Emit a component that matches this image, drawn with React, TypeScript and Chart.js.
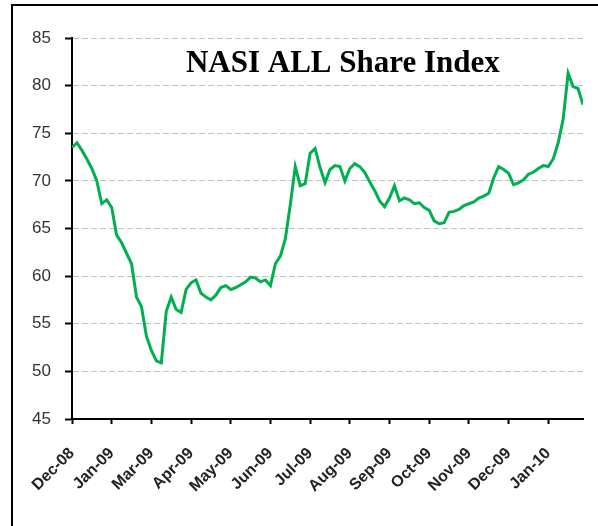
import React, { useEffect, useRef } from "react";
import { Chart, registerables } from "chart.js";

Chart.register(...registerables);

const title = "NASI ALL Share Index";
const tickLabels = [
  "Dec-08", "Jan-09", "Mar-09", "Apr-09", "May-09", "Jun-09", "Jul-09",
  "Aug-09", "Sep-09", "Oct-09", "Nov-09", "Dec-09", "Jan-10",
];
const pointsPerTick = 8;
const yTicks = [45, 50, 55, 60, 65, 70, 75, 80, 85];
const indexValues = [
  73.5, 74.0, 73.2, 72.3, 71.3, 70.0, 67.6, 68.0, 67.2, 64.3,
  63.5, 62.4, 61.3, 57.8, 56.8, 53.7, 52.2, 51.1, 50.9, 56.3,
  57.8, 56.5, 56.2, 58.6, 59.3, 59.6, 58.2, 57.8, 57.5, 58.0,
  58.8, 59.0, 58.6, 58.8, 59.1, 59.4, 59.9, 59.8, 59.4, 59.6,
  59.0, 61.3, 62.1, 63.9, 67.5, 71.5, 69.5, 69.7, 72.9, 73.4,
  71.4, 69.8, 71.2, 71.6, 71.5, 70.0, 71.3, 71.8, 71.5, 70.9,
  69.9, 69.0, 67.9, 67.3, 68.2, 69.5, 67.9, 68.2, 68.0, 67.6,
  67.7, 67.2, 66.9, 65.8, 65.5, 65.6, 66.7, 66.8, 67.0, 67.4,
  67.6, 67.8, 68.2, 68.4, 68.7, 70.3, 71.5, 71.2, 70.8, 69.6,
  69.8, 70.1, 70.7, 70.9, 71.3, 71.6, 71.5, 72.3, 74.0, 76.5,
  81.3, 79.9, 79.7, 78.0,
];

const titlePlugin = {
  id: "innerTitle",
  afterDraw(chart: any) {
    const { ctx, chartArea } = chart;
    ctx.save();
    ctx.font = 'bold 31px "Liberation Serif"';
    ctx.fillStyle = "#000";
    ctx.textAlign = "center";
    ctx.textBaseline = "alphabetic";
    const x = chartArea.left + (chartArea.right - chartArea.left) * 0.53;
    const y = chartArea.top + (chartArea.bottom - chartArea.top) * 0.09;
    ctx.fillText(title, x, y);
    ctx.restore();
  },
};

export default function App() {
  const ref = useRef<HTMLCanvasElement>(null);
  useEffect(() => {
    const canvas = ref.current!;
    const data = indexValues.map((v, i) => ({ x: i, y: v }));
    const chart = new Chart(canvas, {
      type: "line",
      data: {
        datasets: [
          {
            label: title,
            data,
            borderColor: "#00b050",
            borderWidth: 3,
            pointRadius: 0,
            tension: 0,
            fill: false,
          },
        ],
      },
      options: {
        animation: false,
        responsive: false,
        maintainAspectRatio: false,
        layout: { padding: { top: 38, right: 15, left: 0, bottom: 0 } },
        plugins: {
          legend: { display: false },
          title: { display: false },
          tooltip: { enabled: false },
        },
        scales: {
          x: {
            type: "linear",
            min: 0,
            max: indexValues.length - 1,
            afterBuildTicks: (scale: any) => {
              scale.ticks = tickLabels.map((_, k) => ({ value: k * pointsPerTick }));
            },
            afterFit: (scale: any) => {
              scale.height = 107;
            },
            ticks: {
              autoSkip: false,
              maxRotation: 45,
              minRotation: 45,
              padding: 20,
              color: "#222",
              font: { family: '"Liberation Sans", Arial', size: 16, weight: "bold" },
              callback: (v: any) => {
                const k = Math.round(Number(v) / pointsPerTick);
                return tickLabels[k] ?? "";
              },
            },
            grid: {
              drawOnChartArea: false,
              drawTicks: true,
              tickLength: 5,
              tickColor: "#000",
              tickWidth: 2,
            },
            border: { display: true, color: "#000", width: 2 },
          },
          y: {
            type: "linear",
            min: yTicks[0],
            max: yTicks[yTicks.length - 1],
            afterBuildTicks: (scale: any) => {
              scale.ticks = yTicks.map((v) => ({ value: v }));
            },
            afterFit: (scale: any) => {
              scale.width = 72;
            },
            ticks: {
              padding: 14,
              color: "#333",
              font: { family: '"Liberation Sans", Arial', size: 17 },
            },
            grid: {
              color: "#c0c0c0",
              lineWidth: 1,
              drawTicks: true,
              tickLength: 7,
              tickColor: "#000",
              tickWidth: 2,
              tickBorderDash: [],
            },
            border: { display: true, color: "#000", width: 2, dash: [6, 3] },
          },
        },
      },
      plugins: [titlePlugin],
    });
    return () => chart.destroy();
  }, []);

  return (
    <div style={{ position: "fixed", left: 0, top: 0, width: 598, height: 526, background: "#fff", overflow: "hidden" }}>
      <div
        style={{
          position: "absolute",
          left: 11,
          top: 4,
          width: 620,
          height: 620,
          border: "2px solid #000",
          boxSizing: "border-box",
        }}
      />
      <canvas ref={ref} width={598} height={526} style={{ position: "absolute", left: 0, top: 0 }} />
    </div>
  );
}
